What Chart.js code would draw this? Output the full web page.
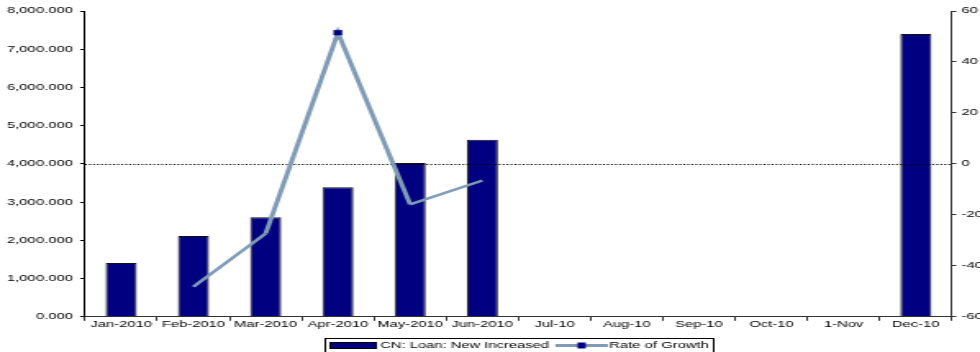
<!DOCTYPE html>
<html><head><meta charset="utf-8">
<script src="https://cdn.jsdelivr.net/npm/chart.js@4.4.1/dist/chart.umd.min.js"></script>
<style>
html,body{margin:0;padding:0;background:#fff;overflow:hidden}
#c{display:block}
</style>
</head><body>
<canvas id="c" width="598" height="352" style="width:980px;height:352px"></canvas>
<script>
// ---- data ----
const categories = ['Jan-2010','Feb-2010','Mar-2010','Apr-2010','May-2010','Jun-2010','Jul-10','Aug-10','Sep-10','Oct-10','1-Nov','Dec-10'];
const loanNewIncreased = [1408, 2117, 2605, 3392, 4021, 4635, null, null, null, null, null, 7397];
const rateOfGrowth = [null, -48.2, -27.3, 51.5, -15.9, -6.5, null, null, null, null, null, null];
const seriesNames = ['CN: Loan: New Increased', 'Rate of Growth'];
const leftAxisTicks = [0, 1000, 2000, 3000, 4000, 5000, 6000, 7000, 8000];
const rightAxisTicks = [-60, -40, -20, 0, 20, 40, 60];

// ---- style ----
const NAVY = '#000080';
const LINE = '#7f9bb6';
const FONT = {family: "'Liberation Sans', Arial, sans-serif", size: 9};

// legend symbols (drawn on small canvases)
function barSymbol() {
  const cv = document.createElement('canvas');
  cv.width = 32; cv.height = 7;
  const g = cv.getContext('2d');
  g.fillStyle = '#000'; g.fillRect(3, 0, 29, 7);
  g.fillStyle = NAVY; g.fillRect(4, 1, 27, 5);
  return cv;
}
function lineSymbol() {
  const cv = document.createElement('canvas');
  cv.width = 34; cv.height = 7;
  const g = cv.getContext('2d');
  g.fillStyle = LINE; g.fillRect(2, 2, 32, 3);
  g.fillStyle = NAVY; g.fillRect(15.5, 0.5, 5, 6);
  return cv;
}
const SYMBOLS = [barSymbol(), lineSymbol()];

const zeroLinePlugin = {
  id: 'zeroLine',
  beforeDatasetDraw(chart, args) {
    if (args.index !== 1) return;
    const {ctx, chartArea} = chart;
    const y = Math.round(chart.scales.y1.getPixelForValue(0)) + 0.5;
    ctx.save();
    ctx.strokeStyle = '#000';
    ctx.lineWidth = 1.2;
    ctx.setLineDash([1.1, 1.35]);
    ctx.beginPath();
    ctx.moveTo(chartArea.left, y);
    ctx.lineTo(chartArea.right, y);
    ctx.stroke();
    ctx.restore();
  }
};

const legendBoxPlugin = {
  id: 'legendBox',
  afterDraw(chart) {
    const hb = chart.legend && chart.legend.legendHitBoxes;
    if (!hb || !hb.length) return;
    const first = hb[0], last = hb[hb.length - 1];
    const l = first.left - 2.5, r = last.left + last.width + 3;
    const t = first.top - 3.5, b = first.top + first.height + 3.5;
    const ctx = chart.ctx;
    ctx.save();
    ctx.strokeStyle = '#000';
    ctx.lineWidth = 1;
    ctx.strokeRect(Math.round(l) + 0.5, Math.round(t) + 0.5, Math.round(r - l), Math.round(b - t));
    ctx.restore();
  }
};

new Chart(document.getElementById('c'), {
  data: {
    labels: categories,
    datasets: [
      {
        type: 'bar',
        label: seriesNames[0],
        data: loanNewIncreased,
        yAxisID: 'y',
        backgroundColor: NAVY,
        borderColor: '#111',
        borderWidth: 1,
        barPercentage: 0.43,
        categoryPercentage: 1,
        order: 1
      },
      {
        type: 'line',
        label: seriesNames[1],
        data: rateOfGrowth,
        yAxisID: 'y1',
        borderColor: LINE,
        backgroundColor: NAVY,
        borderWidth: 3,
        borderCapStyle: 'butt',
        segment: {
          borderWidth: ctx => [2.6, 2.6, 3, 3, 2.4, 2.4][ctx.p0DataIndex] || 3
        },
        pointStyle: 'rect',
        pointRadius: ctx => ctx.dataIndex === 3 ? 3.4 : 0,
        pointHoverRadius: 0,
        pointBackgroundColor: NAVY,
        pointBorderColor: NAVY,
        pointBorderWidth: 0.5,
        spanGaps: false,
        tension: 0,
        order: 0
      }
    ]
  },
  options: {
    responsive: false,
    animation: false,
    devicePixelRatio: 1,
    layout: {padding: {top: 11, bottom: -8, left: 0, right: 0}},
    plugins: {
      tooltip: {enabled: false},
      legend: {
        position: 'bottom',
        fullSize: false,
        labels: {
          usePointStyle: true,
          pointStyleWidth: 27,
          padding: 5.4,
          color: '#000',
          font: FONT,
          generateLabels(chart) {
            const items = Chart.defaults.plugins.legend.labels.generateLabels(chart);
            items.sort((a, b) => a.datasetIndex - b.datasetIndex);
            items.forEach(it => { it.pointStyle = SYMBOLS[it.datasetIndex]; it.fontColor = '#000'; });
            return items;
          }
        }
      }
    },
    scales: {
      x: {
        offset: true,
        grid: {display: true, drawOnChartArea: false, offset: true, tickLength: 4, tickColor: '#333'},
        border: {color: '#333', width: 1},
        ticks: {color: '#000', font: FONT, maxRotation: 0, autoSkip: false, padding: -1.5},
        afterFit: s => { s.height += 7; }
      },
      y: {
        position: 'left',
        min: leftAxisTicks[0],
        max: leftAxisTicks[leftAxisTicks.length - 1],
        afterBuildTicks: s => { s.ticks = leftAxisTicks.map(v => ({value: v})); },
        grid: {display: true, drawOnChartArea: false, tickLength: 3, tickColor: '#000'},
        border: {color: '#000', width: 1},
        ticks: {
          color: '#000', font: FONT, padding: 4.5,
          callback: v => Number(v).toLocaleString('en-US', {minimumFractionDigits: 3, maximumFractionDigits: 3})
        },
        afterFit: s => { s.width = 51.9; }
      },
      y1: {
        position: 'right',
        min: rightAxisTicks[0],
        max: rightAxisTicks[rightAxisTicks.length - 1],
        afterBuildTicks: s => { s.ticks = rightAxisTicks.map(v => ({value: v})); },
        grid: {display: true, drawOnChartArea: false, tickLength: 2.6, tickColor: '#333'},
        border: {color: '#333', width: 1},
        ticks: {color: '#000', font: FONT, padding: 3.3, callback: v => String(v)},
        afterFit: s => { s.width = 17.1; }
      }
    }
  },
  plugins: [zeroLinePlugin, legendBoxPlugin]
});
</script>
</body></html>
